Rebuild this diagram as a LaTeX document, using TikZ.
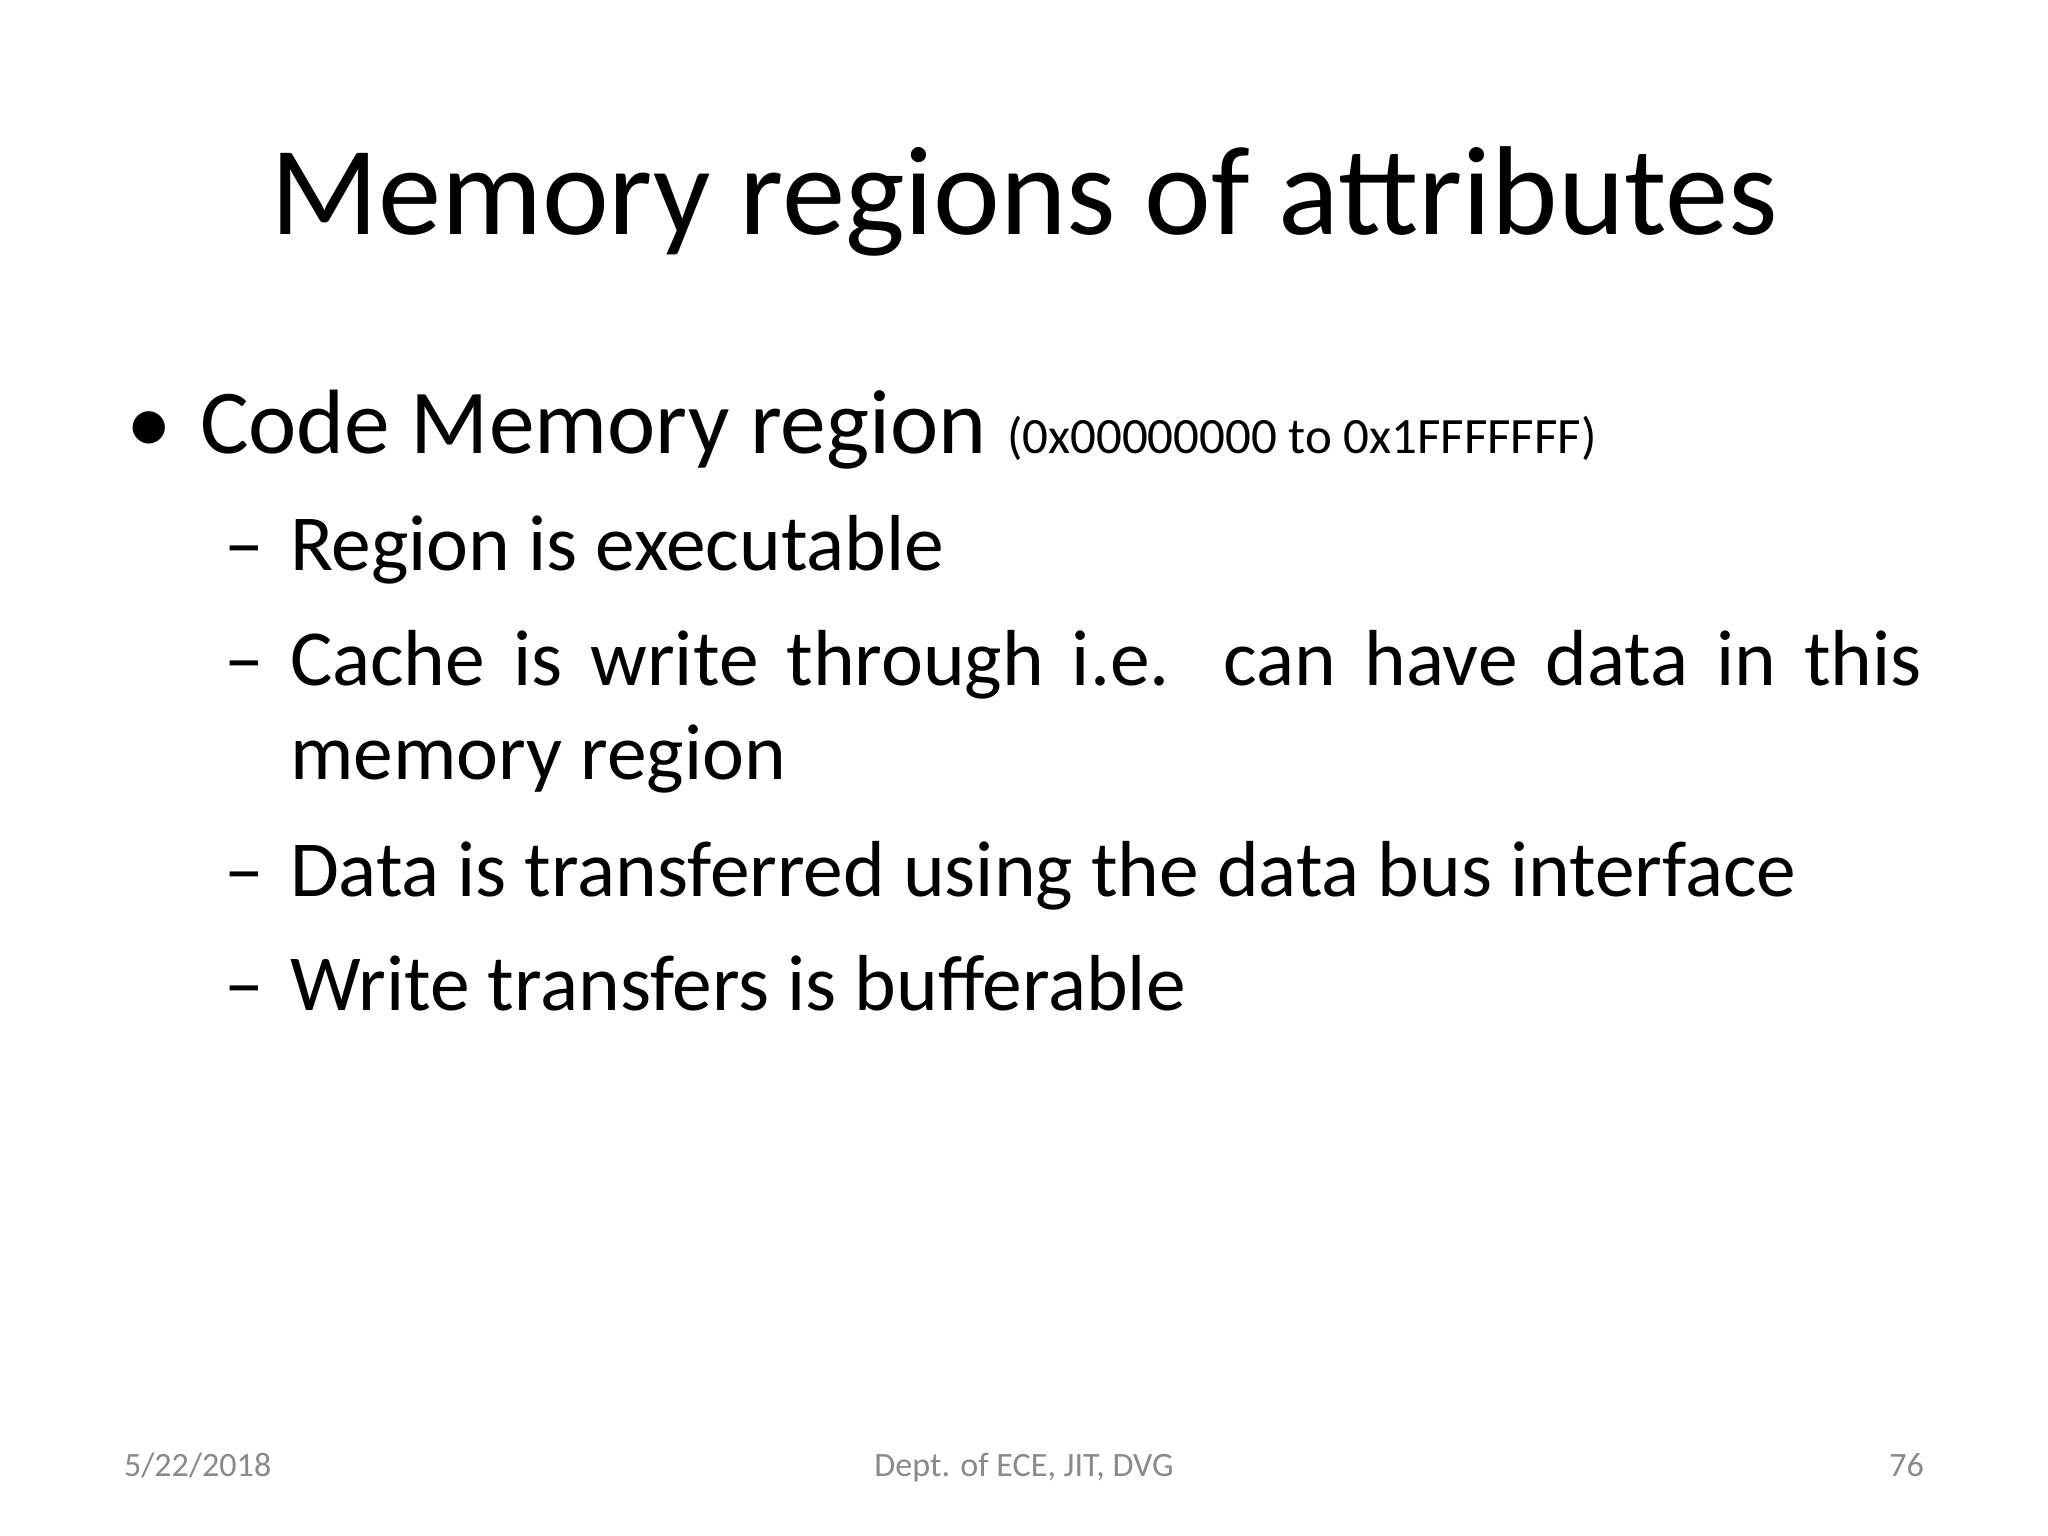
\documentclass[tikz,border=0pt]{standalone}
\usepackage{fontspec}
\setmainfont{Carlito}
\definecolor{foot}{HTML}{8A8A8A}
\begin{document}
\begin{tikzpicture}[x=1cm,y=1cm,
  every node/.style={inner sep=0pt,outer sep=0pt},
  title/.style={anchor=base,font=\fontsize{36}{40}\selectfont},
  lvlone/.style={anchor=base west,font=\fontsize{26}{30}\selectfont},
  lvltwo/.style={anchor=base west,font=\fontsize{22.6}{27}\selectfont},
  footer/.style={font=\fontsize{9.7}{11}\selectfont,text=foot}]
\useasboundingbox (0,0) rectangle (20.48,-15.36);
\fill[white] (0,0) rectangle (20.48,-15.36);
\node[title] (t) at (10.24,-2.35) {Memory regions of attributes};
\node[lvlone] (b1) at (1.26,-4.54) {•};
\node[lvlone] (c1) at (2.0,-4.54) {Code Memory region \fontsize{14.5}{16}\selectfont(0x00000000 to 0x1FFFFFFF)};
\node[lvltwo] (d1) at (2.25,-5.71) {–};
\node[lvltwo] (s1) at (2.90,-5.71) {Region is executable};
\node[lvltwo] (d2) at (2.25,-6.86) {–};
\node[lvltwo] (s2) at (2.90,-6.86) {\makebox[16.32cm][s]{Cache is write through i.e. can have data in this}};
\node[lvltwo] (s2b) at (2.90,-7.80) {memory region};
\node[lvltwo] (d3) at (2.25,-8.96) {–};
\node[lvltwo] (s3) at (2.90,-8.96) {Data is transferred using the data bus interface};
\node[lvltwo] (d4) at (2.25,-10.10) {–};
\node[lvltwo] (s4) at (2.90,-10.10) {Write transfers is bufferable};
\node[footer,anchor=base west] (f1) at (1.24,-14.76) {5/22/2018};
\node[footer,anchor=base] (f2) at (10.24,-14.76) {Dept. of ECE, JIT, DVG};
\node[footer,anchor=base east] (f3) at (19.24,-14.76) {76};
\end{tikzpicture}
\end{document}
